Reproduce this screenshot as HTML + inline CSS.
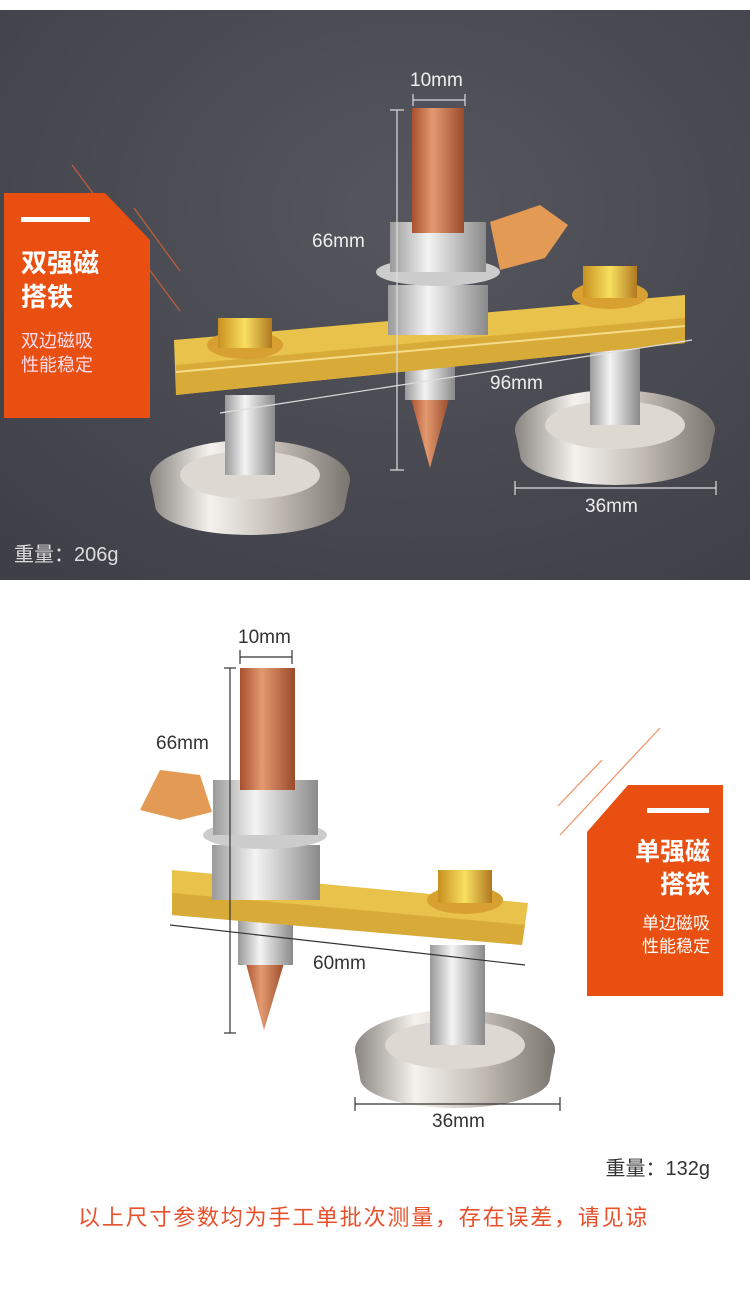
<!DOCTYPE html>
<html><head><meta charset="utf-8"><style>
html,body{margin:0;padding:0;background:#fff;}
body{width:750px;height:1301px;position:relative;overflow:hidden;font-family:"Liberation Sans","Noto Sans CJK SC",sans-serif;}
svg{position:absolute;left:0;top:0;}
</style></head><body>
<svg width="750" height="1301" viewBox="0 0 750 1301" xmlns="http://www.w3.org/2000/svg" font-family="Liberation Sans, Noto Sans CJK SC, sans-serif">
<defs>
<radialGradient id="bg" cx="0.55" cy="0.35" r="0.8"><stop offset="0" stop-color="#56565f"/><stop offset="1" stop-color="#3f3f47"/></radialGradient>
<linearGradient id="cop" x1="0" x2="1"><stop offset="0" stop-color="#a8502e"/><stop offset="0.4" stop-color="#e49a70"/><stop offset="1" stop-color="#9a4a2a"/></linearGradient>
<linearGradient id="sil" x1="0" x2="1"><stop offset="0" stop-color="#9a9a9a"/><stop offset="0.4" stop-color="#f4f4f4"/><stop offset="1" stop-color="#8a8a8a"/></linearGradient>
<linearGradient id="mag" x1="0" x2="1"><stop offset="0" stop-color="#8a8580"/><stop offset="0.3" stop-color="#f5f2ee"/><stop offset="0.6" stop-color="#c8c2bb"/><stop offset="1" stop-color="#7a756f"/></linearGradient>
<linearGradient id="gold" x1="0" x2="1"><stop offset="0" stop-color="#c89020"/><stop offset="0.5" stop-color="#f8e060"/><stop offset="1" stop-color="#b07820"/></linearGradient>
</defs>
<rect x="0" y="10" width="750" height="570" fill="url(#bg)"/>
<line x1="72" y1="165" x2="180" y2="311" stroke="#c0603a" stroke-width="1.2"/>
<line x1="134" y1="208" x2="180" y2="271" stroke="#c0603a" stroke-width="1.2"/>
<polygon points="4,193 105,193 150,240 150,418 4,418" fill="#e84f10"/>
<rect x="21" y="217" width="69" height="5" fill="#fff"/>
<text x="21" y="272" font-size="26" font-weight="bold" fill="#fff">双强磁</text>
<text x="21" y="306" font-size="26" font-weight="bold" fill="#fff">搭铁</text>
<text x="21" y="347" font-size="18" fill="#fde">双边磁吸</text>
<text x="21" y="371" font-size="18" fill="#fde">性能稳定</text>
<g>
<path d="M150,480 A100,40 0 0 1 350,480 L345,505 A95,30 0 0 1 155,505 Z" fill="url(#mag)"/>
<ellipse cx="250" cy="480" rx="100" ry="38" fill="url(#mag)"/>
<ellipse cx="250" cy="475" rx="70" ry="24" fill="#ddd8d2"/>
<rect x="225" y="395" width="50" height="80" fill="url(#sil)"/>
<path d="M515,430 A100,40 0 0 1 715,430 L710,455 A95,30 0 0 1 520,455 Z" fill="url(#mag)"/>
<ellipse cx="615" cy="430" rx="100" ry="38" fill="url(#mag)"/>
<ellipse cx="615" cy="425" rx="70" ry="24" fill="#ddd8d2"/>
<rect x="590" y="345" width="50" height="80" fill="url(#sil)"/>
<polygon points="410,395 450,395 430,468" fill="url(#cop)"/>
<rect x="405" y="365" width="50" height="35" fill="url(#sil)"/>
<polygon points="174,340 685,295 685,343 176,395" fill="#e8c24a"/>
<polygon points="176,365 685,318 685,343 176,395" fill="#d8aa38"/>
<line x1="176" y1="372" x2="685" y2="326" stroke="#f4dc8a" stroke-width="2"/>
<ellipse cx="245" cy="345" rx="38" ry="14" fill="#d8a030"/>
<polygon points="218,318 272,318 272,348 218,348" fill="url(#gold)"/>
<ellipse cx="610" cy="295" rx="38" ry="14" fill="#d8a030"/>
<polygon points="583,266 637,266 637,298 583,298" fill="url(#gold)"/>
<rect x="388" y="285" width="100" height="50" fill="url(#sil)"/>
<ellipse cx="438" cy="272" rx="62" ry="14" fill="#ccc"/>
<rect x="390" y="222" width="96" height="50" fill="url(#sil)"/>
<path d="M490,222 L540,205 L568,225 L545,258 L500,270 Z" fill="#e29a55"/>
<rect x="412" y="108" width="52" height="125" fill="url(#cop)"/>
</g>
<g stroke="#ddd" stroke-width="1.2">
<line x1="397" y1="110" x2="397" y2="470"/><line x1="390" y1="110" x2="404" y2="110"/><line x1="390" y1="470" x2="404" y2="470"/>
<line x1="413" y1="100" x2="465" y2="100"/><line x1="413" y1="94" x2="413" y2="106"/><line x1="465" y1="94" x2="465" y2="106"/>
<line x1="515" y1="488" x2="716" y2="488"/><line x1="515" y1="481" x2="515" y2="495"/><line x1="716" y1="481" x2="716" y2="495"/>
<line x1="220" y1="413" x2="692" y2="340"/>
</g>
<g fill="#eee" font-size="19">
<text x="410" y="86">10mm</text>
<text x="312" y="247">66mm</text>
<text x="490" y="389">96mm</text>
<text x="585" y="512">36mm</text>
</g>
<text x="14" y="561" font-size="20" fill="#ddd">重量：206g</text>

<line x1="558" y1="806" x2="602" y2="760" stroke="#f09060" stroke-width="1.2"/>
<line x1="560" y1="835" x2="660" y2="728" stroke="#f09060" stroke-width="1.2"/>
<polygon points="628,785 723,785 723,996 587,996 587,832" fill="#e84f10"/>
<rect x="647" y="808" width="62" height="5" fill="#fff"/>
<g text-anchor="end" fill="#fff">
<text x="710" y="860" font-size="25" font-weight="bold">单强磁</text>
<text x="710" y="893" font-size="25" font-weight="bold">搭铁</text>
<text x="710" y="929" font-size="17">单边磁吸</text>
<text x="710" y="952" font-size="17">性能稳定</text>
</g>
<path d="M355,1050 A100,40 0 0 1 555,1050 L550,1078 A95,30 0 0 1 360,1078 Z" fill="url(#mag)"/>
<ellipse cx="455" cy="1050" rx="100" ry="38" fill="url(#mag)"/>
<ellipse cx="455" cy="1045" rx="70" ry="24" fill="#ddd8d2"/>
<rect x="430" y="945" width="55" height="100" fill="url(#sil)"/>
<polygon points="245,960 285,960 264,1030" fill="url(#cop)"/>
<rect x="238" y="915" width="55" height="50" fill="url(#sil)"/>
<polygon points="172,870 528,903 522,945 172,915" fill="#e8c24a"/>
<polygon points="172,893 525,925 522,945 172,915" fill="#d8aa38"/>
<ellipse cx="465" cy="900" rx="38" ry="14" fill="#d8a030"/>
<polygon points="438,870 492,870 492,903 438,903" fill="url(#gold)"/>
<rect x="212" y="845" width="108" height="55" fill="url(#sil)"/>
<ellipse cx="265" cy="835" rx="62" ry="14" fill="#ccc"/>
<rect x="213" y="780" width="105" height="55" fill="url(#sil)"/>
<path d="M212,812 L180,820 L140,810 L160,770 L200,775 Z" fill="#e29a55"/>
<rect x="240" y="668" width="55" height="122" fill="url(#cop)"/>
<g stroke="#333" stroke-width="1.2">
<line x1="230" y1="668" x2="230" y2="1033"/><line x1="224" y1="668" x2="236" y2="668"/><line x1="224" y1="1033" x2="236" y2="1033"/>
<line x1="240" y1="657" x2="292" y2="657"/><line x1="240" y1="650" x2="240" y2="664"/><line x1="292" y1="650" x2="292" y2="664"/>
<line x1="355" y1="1104" x2="560" y2="1104"/><line x1="355" y1="1097" x2="355" y2="1111"/><line x1="560" y1="1097" x2="560" y2="1111"/>
<line x1="170" y1="925" x2="525" y2="965"/>
</g>
<g fill="#333" font-size="19">
<text x="238" y="643">10mm</text>
<text x="156" y="749">66mm</text>
<text x="313" y="969">60mm</text>
<text x="432" y="1127">36mm</text>
</g>
<text x="710" y="1175" font-size="20" fill="#333" text-anchor="end">重量：132g</text>
<text x="78" y="1225" font-size="22" letter-spacing="1.8" fill="#e8502a">以上尺寸参数均为手工单批次测量，存在误差，请见谅</text>
</svg>
</body></html>
